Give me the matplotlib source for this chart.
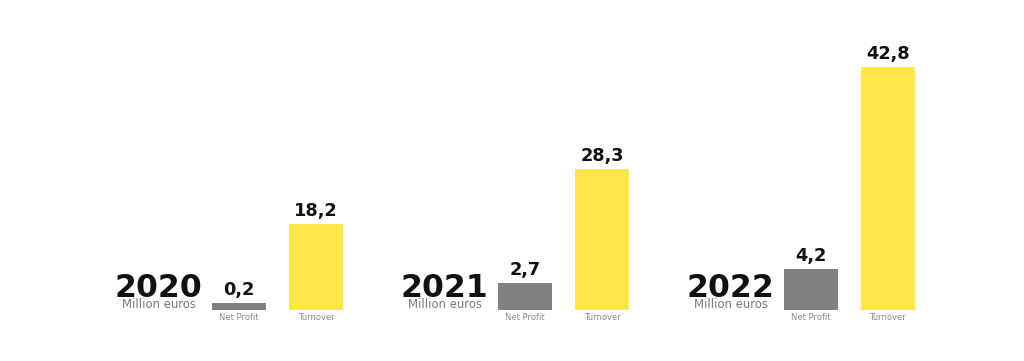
import matplotlib
matplotlib.use("Agg")
import matplotlib.pyplot as plt
import numpy as np

# ---- data ----
years = ["2020", "2021", "2022"]
net_profit = [0.2, 2.7, 4.2]          # label values (million euros)
turnover = [18.2, 28.3, 42.8]
# bar heights as drawn in the reference (the original is not to scale)
net_profit_drawn = [1.25, 4.7, 7.3]
turnover_drawn = [15.15, 24.95, 42.8]
unit_label = "Million euros"
series_names = ["Net Profit", "Turnover"]

GRAY = "#808080"
YELLOW = "#FEE54A"

fig = plt.figure(figsize=(10.24, 3.61), dpi=100)
ax = fig.add_axes([0, 0, 1, 1])
ax.set_xlim(-0.836, 2.745)
ax.set_ylim(-9.0, 54.7)
ax.axis("off")

x = np.arange(len(years))
offset = 0.269
width = 0.189

ax.bar(x, net_profit_drawn, width=width, color=GRAY)
ax.bar(x + offset, turnover_drawn, width=width, color=YELLOW)

def fmt(v):
    return f"{v:.1f}".replace(".", ",")

for xi, h, v in zip(x, net_profit_drawn, net_profit):
    ax.annotate(fmt(v), (xi, h), xytext=(0, 8), textcoords="offset pixels",
                ha="center", va="baseline", fontsize=12.8, fontweight="bold", color="#111111")
    ax.annotate(series_names[0], (xi, 0), xytext=(0, -3), textcoords="offset pixels",
                ha="center", va="top", fontsize=6, color="#8a8a8a")
for xi, h, v in zip(x + offset, turnover_drawn, turnover):
    ax.annotate(fmt(v), (xi, h), xytext=(0, 8), textcoords="offset pixels",
                ha="center", va="baseline", fontsize=12.8, fontweight="bold", color="#111111")
    ax.annotate(series_names[1], (xi, 0), xytext=(0, -3), textcoords="offset pixels",
                ha="center", va="top", fontsize=6, color="#8a8a8a")

for xi, yr in zip(x, years):
    ax.annotate(yr, (xi, 0), xytext=(-81, 13), textcoords="offset pixels",
                ha="center", va="baseline", fontsize=22.7, fontweight="bold", color="#111111")
    ax.annotate(unit_label, (xi, 0), xytext=(-80, 2), textcoords="offset pixels",
                ha="center", va="baseline", fontsize=8.4, color="#7a7a7a")

fig.savefig("out.png", dpi=100, facecolor="white")
